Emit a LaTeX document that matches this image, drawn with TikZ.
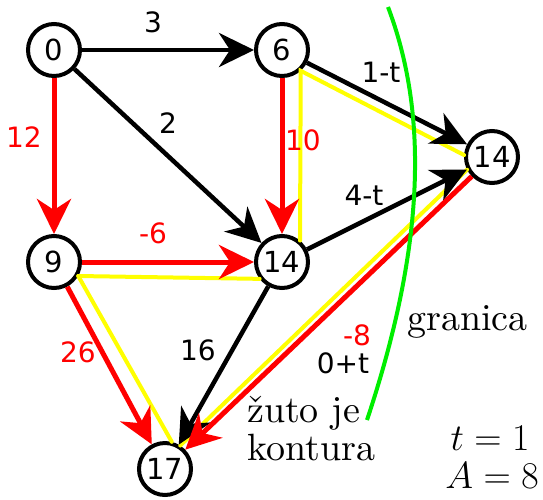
\documentclass[tikz,border=0pt]{standalone}
\usepackage{fontspec}
\newfontfamily\lblfont{DejaVu Sans}
\newfontfamily\notefont{lmroman10-regular}[Extension=.otf]
\usetikzlibrary{arrows.meta}
\definecolor{cutred}{RGB}{255,0,0}
\definecolor{cutyellow}{RGB}{255,255,0}
\definecolor{cutgreen}{RGB}{0,238,0}
\newcommand{\bigmath}[1]{\scalebox{1.52}{\Huge $#1$}}

\begin{document}
\begin{tikzpicture}[x=1pt, y=-1pt, >={Stealth[length=35pt, width=34pt, inset=11pt]},
        vert/.style={draw, circle, line width=4pt, fill=white, minimum size=52pt, inner sep=0pt, font=\lblfont\fontsize{29}{30}\selectfont},
        blk/.style={->, line width=4.5pt},
        rd/.style={->, line width=5pt, cutred},
        cnt/.style={line width=4pt, cutyellow, line cap=round},
        lbl/.style={font=\lblfont\fontsize{28}{30}\selectfont, inner sep=0pt},
        note/.style={font=\notefont\fontsize{38}{34}\selectfont, inner sep=0pt}]
        \useasboundingbox (0,0) rectangle (543,499);

        % Vertices
        \node[vert] (n0) at (54,50) {0};
        \node[vert] (n6) at (282,50) {6};
        \node[vert] (n9) at (54,262) {9};
        \node[vert] (n14m) at (282,262) {14};
        \node[vert] (n14r) at (492,157) {14};
        \node[vert] (n17) at (165,469) {17};

        % Yellow contour
        \draw[cnt] (n9.-30) -- (n14m.217);
        \draw[cnt] (n14m.50) -- (n6.-48) -- (n14r.176);
        \draw[cnt] (n14r.207) -- (n17.57);
        \draw[cnt] (n17.76) -- (n9.-30);

        % Edges
        \draw[blk] (n0) -- (n6);
        \draw[blk] (n0) -- (n14m);
        \draw[rd] (n0) -- (n9);
        \draw[rd] (n6) -- (n14m);
        \draw[blk] (n6) -- (n14r);
        \draw[rd] (n9) -- (n14m);
        \draw[blk] (n14m) -- (n14r);
        \draw[rd] (n9) -- (n17);
        \draw[blk] (n14m) -- (n17);
        \draw[rd] (n14r) -- (n17);

        % Edge labels
        \node[lbl] (w06) at (153,22) {3};
        \node[lbl] (w014) at (168,123) {2};
        \node[lbl, cutred] (w09) at (24,137) {12};
        \node[lbl, cutred] (w914) at (153,233) {-6};
        \node[lbl, cutred] (w614) at (303,140) {10};
        \node[lbl] (w6r) at (381,72) {1-t};
        \node[lbl] (wmr) at (364,195) {4-t};
        \node[lbl, cutred] (w917) at (78,352) {26};
        \node[lbl] (wm17) at (198,350) {16};
        \node[lbl, cutred] (wr17) at (357,335) {-8};
        \node[lbl] (wr17t) at (343,363) {0+t};

        % Cut boundary and notes
        \draw[cutgreen, line width=4pt] (388,7) .. controls (427,110) and (427,240) .. (367,420);
        \node[note, anchor=base west] (gran) at (407,330) {granica};
        \node[note, anchor=base west] (zuto) at (247,422) {žuto je};
        \node[note, anchor=base west] (kont) at (247,460) {kontura};
        \node[note, anchor=base] (tval) at (490,450) {\bigmath{t=1}};
        \node[note, anchor=base] (aval) at (492,488) {\bigmath{A=8}};
    \end{tikzpicture}
\end{document}
